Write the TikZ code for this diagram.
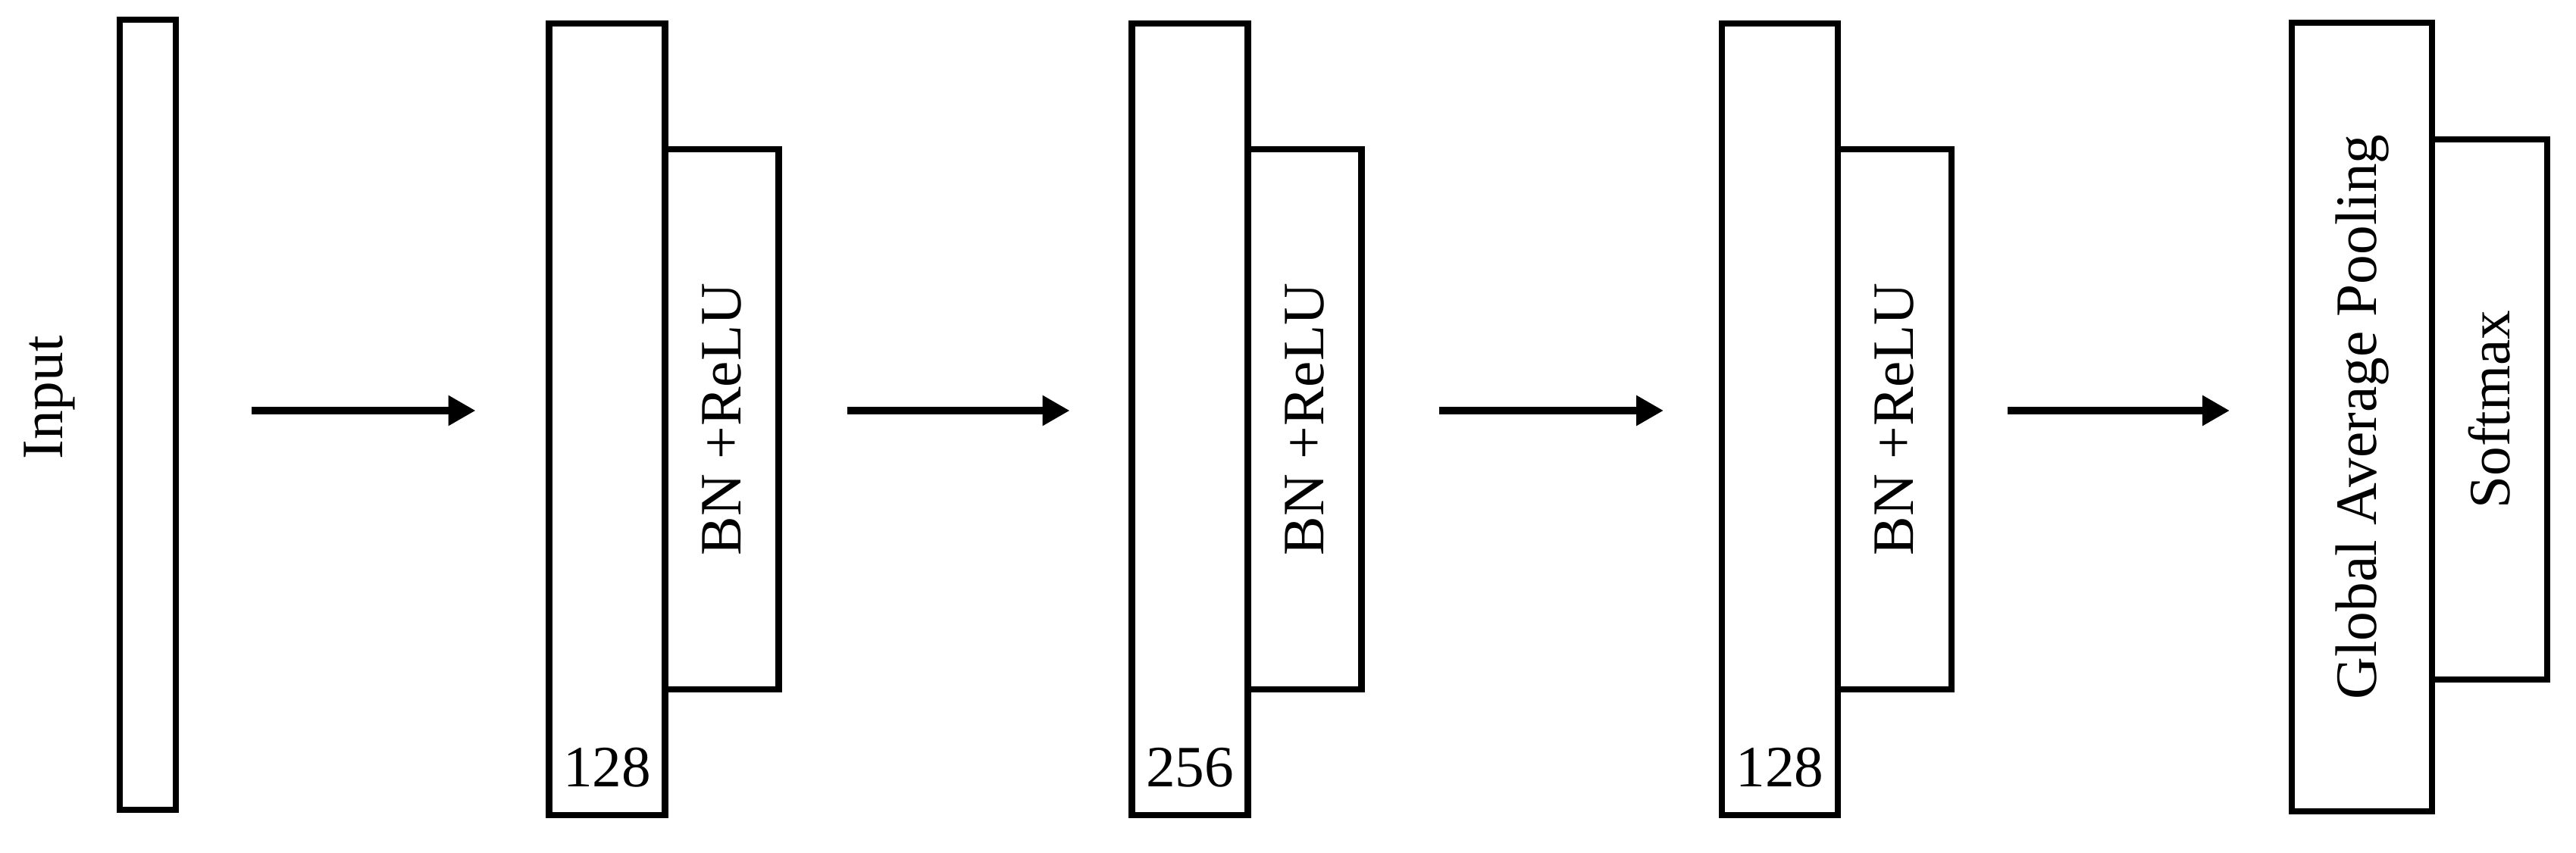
\documentclass[tikz,border=0pt]{standalone}
\usepackage{fontspec}
\setmainfont{Liberation Serif}
\usetikzlibrary{arrows.meta}

\begin{document}
\begin{tikzpicture}[
    every node/.style={font=\fontsize{22}{26}\selectfont},
    layer/.style={draw, line width=2.3pt, outer sep=0pt, inner sep=0pt, minimum width=1.53cm, minimum height=10.45cm},
    act/.style={draw, line width=2.3pt, outer sep=0pt, inner sep=0pt, minimum width=1.5cm, minimum height=7.13cm},
    flow/.style={-{Triangle[length=0.36cm, width=0.38cm]}, line width=2.8pt}
  ]
    \useasboundingbox (0,0) rectangle (33.99,11.25);
    \coordinate (Mid) at (0,5.83);

    \node[rotate=90] (InLab) at (0.65,6.0) {Input};
    \node[layer, minimum width=0.74cm, minimum height=10.43cm] (In) at (1.95,5.775) {};

    \node[layer] (C1) at (8.01,5.715) {};
    \node[act, anchor=west] (S1) at (C1.east) {};
    \node[rotate=90] (S1Lab) at (S1) {BN +ReLU};
    \node[anchor=base] (N1) at ([yshift=0.38cm]C1.south) {128};

    \node[layer] (C2) at (15.70,5.715) {};
    \node[act, anchor=west] (S2) at (C2.east) {};
    \node[rotate=90] (S2Lab) at (S2) {BN +ReLU};
    \node[anchor=base] (N2) at ([yshift=0.38cm]C2.south) {256};

    \node[layer] (C3) at (23.485,5.715) {};
    \node[act, anchor=west] (S3) at (C3.east) {};
    \node[rotate=90] (S3Lab) at (S3) {BN +ReLU};
    \node[anchor=base] (N3) at ([yshift=0.38cm]C3.south) {128};

    \node[layer, minimum width=1.85cm, minimum height=10.41cm] (Gap) at (31.165,5.745) {};
    \node[rotate=90] (GapLab) at (Gap) {Global Average Pooling};
    \node[act, minimum width=1.52cm, anchor=north west] (Soft) at ([yshift=-1.54cm]Gap.north east) {};
    \node[rotate=90] (SoftLab) at (Soft) {Softmax};

    \draw[flow, shorten <=1cm, shorten >=0.97cm] (In.east |- Mid) -- (C1.west |- Mid);
    \draw[flow, shorten <=0.9cm, shorten >=0.82cm] (S1.east |- Mid) -- (C2.west |- Mid);
    \draw[flow, shorten <=1.02cm, shorten >=0.77cm] (S2.east |- Mid) -- (C3.west |- Mid);
    \draw[flow, shorten <=0.74cm, shorten >=0.82cm] (S3.east |- Mid) -- (Gap.west |- Mid);
  \end{tikzpicture}
\end{document}
